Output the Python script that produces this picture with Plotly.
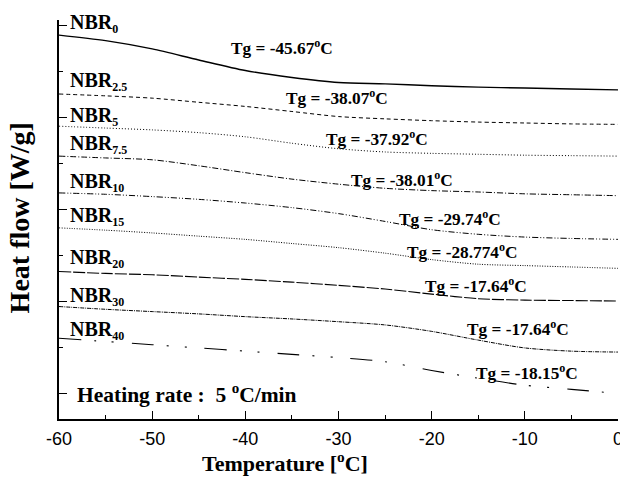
import plotly.graph_objects as go

# ---------------- data ----------------
temperature = [-60, -55, -50, -45, -40, -35, -30, -25, -20, -15, -10, -5, 0]

nbr_0   = [77.8, 76.6, 74.8, 72.4, 70.1, 68.6, 67.5, 67.2, 66.8, 66.5, 66.3, 66.1, 65.9]
nbr_2_5 = [65.0, 64.6, 64.1, 63.2, 62.3, 61.2, 60.1, 59.6, 59.2, 58.9, 58.7, 58.5, 58.4]
nbr_5   = [58.0, 57.6, 57.2, 56.6, 55.7, 54.3, 53.1, 52.4, 52.1, 51.9, 51.7, 51.6, 51.5]
nbr_7_5 = [51.5, 51.1, 50.7, 49.4, 47.9, 46.5, 45.4, 44.5, 44.0, 43.7, 43.3, 43.1, 42.9]
nbr_10  = [43.5, 43.2, 42.7, 42.1, 41.3, 40.3, 39.0, 37.3, 35.5, 34.5, 33.9, 33.6, 33.4]
nbr_15  = [35.9, 35.4, 34.8, 34.1, 33.4, 32.5, 31.6, 30.4, 29.0, 28.0, 27.7, 27.4, 27.1]
nbr_20  = [26.4, 26.0, 25.7, 25.2, 24.7, 24.1, 23.4, 22.6, 21.5, 20.5, 20.2, 20.1, 20.0]
nbr_30  = [18.8, 18.2, 17.7, 17.2, 16.6, 16.1, 15.5, 14.8, 13.4, 11.5, 9.8, 9.1, 8.9]
nbr_40  = [11.9, 11.2, 10.5, 9.8, 9.1, 8.4, 7.7, 6.8, 4.9, 3.2, 1.7, 0.8, -0.1]

series = [nbr_0, nbr_2_5, nbr_5, nbr_7_5, nbr_10, nbr_15, nbr_20, nbr_30, nbr_40]
sample_subscripts = ["0", "2.5", "5", "7.5", "10", "15", "20", "30", "40"]
tg_values = ["-45.67", "-38.07", "-37.92", "-38.01", "-29.74", "-28.774", "-17.64", "-17.64", "-18.15"]

x_tick_values = [-60, -50, -40, -30, -20, -10, 0]
x_tick_labels = ["-60", "-50", "-40", "-30", "-20", "-10", "0"]

# ---------------- styles / positions ----------------
dashes = ["solid", "4px,3px", "1px,2px", "6px,2px,1px,2px", "6px,2px,1px,2px,1px,2px",
          "1px,1.5px", "12px,2px", "4px,1px,1px,1px", "22px,13px,2px,16px,2px,18px"]
widths = [1.4, 1, 1, 1, 1, 1, 1.1, 1, 1.1]
label_pos_y = [80.4, 67.8, 60.2, 54.1, 45.8, 38.4, 29.3, 21.0, 13.6]
tg_pos = [(-36.1, 75.2), (-30.2, 64.3), (-25.9, 55.4), (-23.2, 46.5), (-18.0, 38.0),
          (-16.7, 30.9), (-15.2, 23.5), (-10.7, 14.1), (-9.8, 4.6)]

SERIF = "Liberation Serif"

fig = go.Figure()
for ys, d, w in zip(series, dashes, widths):
    fig.add_trace(go.Scatter(x=temperature, y=ys, mode="lines",
                             line=dict(color="black", width=w, dash=d, shape="spline", smoothing=0.8),
                             showlegend=False, hoverinfo="skip"))

annotations = []
for sub, ly in zip(sample_subscripts, label_pos_y):
    annotations.append(dict(x=-59.0, y=ly, xref="x", yref="y", xanchor="left", yanchor="middle",
                            text=f"<b>NBR<sub><span style='font-size:12px'>{sub}</span></sub></b>",
                            showarrow=False, font=dict(family=SERIF, size=20, color="black")))
for tg, (tx, ty) in zip(tg_values, tg_pos):
    annotations.append(dict(x=tx, y=ty, xref="x", yref="y", xanchor="center", yanchor="middle",
                            text=f"<b>Tg = {tg}<sup>o</sup>C</b>", showarrow=False,
                            font=dict(family=SERIF, size=17.3, color="black")))
annotations.append(dict(x=-58.3, y=0.0, xref="x", yref="y", xanchor="left", yanchor="middle",
                        text="<b>Heating rate :\u00a0\u00a05\u00a0<sup>o</sup>C/min</b>", showarrow=False,
                        font=dict(family=SERIF, size=21.5, color="black")))
# axis titles (placed as in the reference, not centred on the axis)
annotations.append(dict(x=0.404, y=-0.108, xref="paper", yref="paper", xanchor="center", yanchor="middle",
                        text="<b>Temperature [<sup>o</sup>C]</b>", showarrow=False,
                        font=dict(family=SERIF, size=22, color="black")))
annotations.append(dict(x=-0.07, y=0.505, xref="paper", yref="paper", xanchor="center", yanchor="middle",
                        text="<b>Heat flow [W/g]</b>", showarrow=False, textangle=-90,
                        font=dict(family=SERIF, size=28, color="black")))

fig.update_layout(
    width=620, height=498,
    margin=dict(l=59, r=2, t=20, b=79, autoexpand=False),
    paper_bgcolor="white", plot_bgcolor="white",
    annotations=annotations,
    xaxis=dict(range=[-60, 0], tickmode="array", tickvals=x_tick_values, ticktext=x_tick_labels,
               ticks="inside", ticklen=8, tickwidth=1.2, ticklabeloverflow="allow", automargin=False,
               ticklabelstandoff=3,
               tickcolor="black", showline=True, linecolor="black", linewidth=1.5,
               showgrid=False, zeroline=False,
               minor=dict(dtick=5, tick0=-60, ticks="inside", ticklen=4, tickcolor="black", tickwidth=1.2),
               tickfont=dict(family="Liberation Sans", size=18, color="black")),
    yaxis=dict(range=[-5.65, 81.09], tick0=0, dtick=20, ticks="inside", ticklen=8, tickwidth=1.2,
               tickcolor="black", showline=True, linecolor="black", linewidth=1.5, automargin=False,
               showgrid=False, zeroline=False, showticklabels=False,
               minor=dict(dtick=10, ticks="inside", ticklen=4, tickcolor="black", tickwidth=1.2)),
)

fig.write_html("out.html", config={"displayModeBar": False},
               post_script="document.body.style.margin='0px';document.body.style.overflow='hidden';")
